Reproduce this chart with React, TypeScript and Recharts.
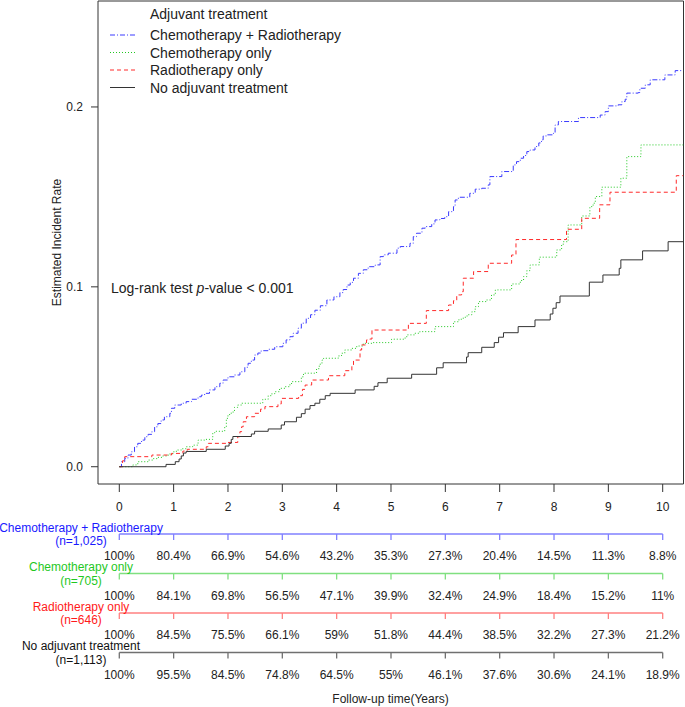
import React from 'react';
import { LineChart, Line, XAxis, YAxis, ReferenceArea } from 'recharts';

const FONT = '"Liberation Sans", Arial, Helvetica, sans-serif';

// ---------- data ----------
const years = [0, 1, 2, 3, 4, 5, 6, 7, 8, 9, 10];
const yTicks = [0, 0.1, 0.2];
const xDomain: [number, number] = [-0.392, 10.383];
const yDomain: [number, number] = [-0.0096, 0.2589];

const chemoRadio: [number, number][] = [
  [0, 0], [0.04, 0.0028], [0.1, 0.0047], [0.16, 0.0065], [0.22, 0.0083], [0.28, 0.0111], [0.34, 0.013],
  [0.41, 0.0148], [0.47, 0.0167], [0.53, 0.018], [0.6, 0.0195], [0.65, 0.0222], [0.71, 0.024], [0.77, 0.026],
  [0.83, 0.0278], [0.93, 0.0297], [0.96, 0.0325], [1.02, 0.0343], [1.14, 0.0353], [1.23, 0.0362], [1.33, 0.0375],
  [1.45, 0.0389], [1.51, 0.0398], [1.57, 0.0408], [1.66, 0.0427], [1.76, 0.0445], [1.85, 0.0464], [1.91, 0.0482],
  [2.0, 0.05], [2.12, 0.051], [2.22, 0.0528], [2.31, 0.0553], [2.37, 0.0575], [2.43, 0.0593], [2.49, 0.0621],
  [2.55, 0.0632], [2.61, 0.0645], [2.74, 0.0653], [2.86, 0.0667], [3.01, 0.0686], [3.07, 0.0705], [3.14, 0.0723],
  [3.2, 0.0742], [3.29, 0.077], [3.35, 0.0798], [3.44, 0.0825], [3.52, 0.0845], [3.6, 0.087], [3.7, 0.0895],
  [3.82, 0.0927], [3.95, 0.0945], [4.06, 0.0968], [4.12, 0.0985], [4.19, 0.101], [4.25, 0.1025], [4.31, 0.1048],
  [4.4, 0.1075], [4.49, 0.1095], [4.58, 0.1112], [4.71, 0.1122], [4.8, 0.1168], [4.86, 0.1178], [4.95, 0.1187],
  [5.11, 0.1215], [5.17, 0.1224], [5.35, 0.1242], [5.41, 0.1279], [5.47, 0.1298], [5.57, 0.1326], [5.63, 0.1335],
  [5.75, 0.135], [5.81, 0.1372], [5.9, 0.138], [5.99, 0.139], [6.06, 0.1418], [6.15, 0.1446], [6.18, 0.1483],
  [6.24, 0.1498], [6.45, 0.152], [6.55, 0.1543], [6.67, 0.1548], [6.79, 0.1567], [6.82, 0.1613], [7.04, 0.1641],
  [7.25, 0.1678], [7.31, 0.1696], [7.38, 0.1715], [7.44, 0.173], [7.5, 0.1752], [7.56, 0.1761], [7.65, 0.178],
  [7.72, 0.18], [7.77, 0.1817], [7.8, 0.1839], [7.87, 0.1845], [7.99, 0.1854], [8.02, 0.19], [8.08, 0.1919],
  [8.45, 0.1941], [8.85, 0.1955], [8.94, 0.1974], [9.0, 0.2006], [9.18, 0.2012], [9.25, 0.203], [9.31, 0.2043],
  [9.34, 0.2077], [9.55, 0.208], [9.58, 0.2104], [9.68, 0.2123], [9.77, 0.2151], [10.04, 0.2178], [10.23, 0.2202],
  [10.38, 0.2202],
];

const chemoOnly: [number, number][] = [
  [0, 0], [0.25, 0.001], [0.34, 0.0028], [0.53, 0.0037], [0.62, 0.0045], [0.71, 0.0052], [0.8, 0.006], [0.9, 0.0071],
  [0.99, 0.0083], [1.05, 0.0093], [1.15, 0.01], [1.23, 0.0111], [1.35, 0.012], [1.45, 0.0148], [1.57, 0.0152],
  [1.72, 0.0189], [1.76, 0.0197], [1.94, 0.0222], [1.97, 0.0269], [2.0, 0.029], [2.06, 0.0304], [2.12, 0.033],
  [2.18, 0.0343], [2.25, 0.0353], [2.64, 0.0375], [2.74, 0.0395], [2.8, 0.0405], [2.86, 0.0417], [2.95, 0.0436],
  [3.05, 0.0445], [3.14, 0.046], [3.17, 0.0473], [3.35, 0.05], [3.39, 0.052], [3.63, 0.0545], [3.68, 0.057],
  [3.73, 0.0593], [3.76, 0.0603], [4.03, 0.0616], [4.09, 0.0631], [4.15, 0.0649], [4.28, 0.0658], [4.37, 0.0671],
  [4.49, 0.0686], [4.67, 0.069], [5.01, 0.0709], [5.26, 0.0723], [5.3, 0.0733], [5.44, 0.0742], [5.53, 0.0751],
  [5.81, 0.0779], [6.15, 0.0806], [6.25, 0.082], [6.33, 0.0831], [6.4, 0.0845], [6.49, 0.0862], [6.55, 0.089],
  [6.61, 0.0918], [6.76, 0.0927], [6.85, 0.0955], [6.92, 0.0983], [7.22, 0.1016], [7.38, 0.1035], [7.44, 0.1057],
  [7.5, 0.109], [7.56, 0.1122], [7.73, 0.1165], [8.05, 0.1205], [8.14, 0.1233], [8.17, 0.1251], [8.26, 0.1344],
  [8.51, 0.1394], [8.66, 0.1446], [8.72, 0.1465], [8.76, 0.1502], [8.88, 0.1554], [9.23, 0.1604], [9.34, 0.1724],
  [9.6, 0.1789], [10.38, 0.1789],
];

const radioOnly: [number, number][] = [
  [0, 0], [0.06, 0.0033], [0.1, 0.0056], [0.6, 0.0065], [0.96, 0.0074], [1.17, 0.0087], [1.25, 0.0097], [1.6, 0.0111],
  [1.64, 0.013], [2.0, 0.0135], [2.18, 0.0167], [2.22, 0.0195], [2.25, 0.0222], [2.28, 0.025], [2.34, 0.0278],
  [2.49, 0.0297], [2.6, 0.032], [2.68, 0.0334], [2.92, 0.0349], [2.98, 0.038], [3.3, 0.0395], [3.37, 0.043],
  [3.42, 0.0454], [3.54, 0.0482], [3.85, 0.0506], [4.15, 0.0534], [4.28, 0.0566], [4.31, 0.0593], [4.43, 0.0649],
  [4.46, 0.0677], [4.55, 0.0705], [4.61, 0.071], [4.65, 0.076], [5.32, 0.0797], [5.65, 0.0868], [6.06, 0.0899],
  [6.15, 0.0923], [6.21, 0.0955], [6.3, 0.0973], [6.33, 0.1048], [6.52, 0.1085], [6.79, 0.1131], [7.22, 0.1177],
  [7.3, 0.1263], [8.23, 0.132], [8.51, 0.1381], [8.84, 0.1456], [9.03, 0.1526], [10.25, 0.1618], [10.38, 0.1618],
];

const noAdjuvant: [number, number][] = [
  [0, 0], [0.86, 0.0013], [1.03, 0.0028], [1.1, 0.0043], [1.14, 0.006], [1.18, 0.0076], [1.23, 0.0085], [1.6, 0.0097],
  [1.95, 0.0115], [2.02, 0.013], [2.06, 0.0152], [2.09, 0.0168], [2.43, 0.0182], [2.49, 0.0197], [2.74, 0.021],
  [2.98, 0.0232], [3.04, 0.025], [3.26, 0.0275], [3.35, 0.0295], [3.42, 0.032], [3.51, 0.034], [3.6, 0.0353],
  [3.69, 0.0375], [3.79, 0.0395], [3.88, 0.0408], [4.34, 0.0427], [4.69, 0.0447], [4.76, 0.0467], [4.93, 0.0492],
  [5.38, 0.0514], [5.84, 0.055], [5.96, 0.0578], [6.39, 0.061], [6.42, 0.0634], [6.67, 0.0664], [6.9, 0.069],
  [6.98, 0.072], [7.07, 0.0745], [7.34, 0.0779], [7.65, 0.0816], [7.93, 0.0849], [7.98, 0.0881], [8.04, 0.0912],
  [8.11, 0.0949], [8.65, 0.1026], [8.9, 0.1066], [9.2, 0.1103], [9.23, 0.115], [9.63, 0.12], [10.1, 0.1251],
  [10.38, 0.1251],
];

const riskChemoRadio = ['100%', '80.4%', '66.9%', '54.6%', '43.2%', '35.3%', '27.3%', '20.4%', '14.5%', '11.3%', '8.8%'];
const riskChemoOnly = ['100%', '84.1%', '69.8%', '56.5%', '47.1%', '39.9%', '32.4%', '24.9%', '18.4%', '15.2%', '11%'];
const riskRadioOnly = ['100%', '84.5%', '75.5%', '66.1%', '59%', '51.8%', '44.4%', '38.5%', '32.2%', '27.3%', '21.2%'];
const riskNoAdjuvant = ['100%', '95.5%', '84.5%', '74.8%', '64.5%', '55%', '46.1%', '37.6%', '30.6%', '24.1%', '18.9%'];

const groupNames = ['Chemotherapy + Radiotherapy', 'Chemotherapy only', 'Radiotherapy only', 'No adjuvant treatment'];
const groupN = ['(n=1,025)', '(n=705)', '(n=646)', '(n=1,113)'];

// ---------- styles ----------
const groups = [
  { name: groupNames[0], n: groupN[0], curve: chemoRadio, risk: riskChemoRadio, stroke: '#3b3bff', dash: '5 2 1 2', text: '#1a1aff', riskLine: '#8080ff' },
  { name: groupNames[1], n: groupN[1], curve: chemoOnly, risk: riskChemoOnly, stroke: '#22c822', dash: '1 2', text: '#1fc81f', riskLine: '#80e080' },
  { name: groupNames[2], n: groupN[2], curve: radioOnly, risk: riskRadioOnly, stroke: '#ff2a2a', dash: '4 3', text: '#ff1a1a', riskLine: '#ff8080' },
  { name: groupNames[3], n: groupN[3], curve: noAdjuvant, risk: riskNoAdjuvant, stroke: '#333333', dash: undefined as string | undefined, text: '#111111', riskLine: '#707070' },
];

const toRows = (pts: [number, number][]) => pts.map(([t, v]) => ({ t, v }));

export default function App() {
  return (
    <div style={{ position: 'absolute', left: 0, top: 0, width: 685, height: 707, background: '#fff', fontFamily: FONT }}>
      <div style={{ position: 'absolute', left: 0, top: 0 }}>
        <LineChart width={685} height={520} margin={{ top: 1, right: 1.5, bottom: 0, left: 0 }}>
          <XAxis
            type="number"
            dataKey="t"
            domain={xDomain}
            allowDataOverflow
            ticks={years}
            height={36}
            axisLine={false}
            tickSize={8}
            tickMargin={10}
            tickLine={{ stroke: '#333' }}
            tick={{ fontSize: 12, fill: '#222', fontFamily: FONT }}
          />
          <YAxis
            type="number"
            domain={yDomain}
            allowDataOverflow
            ticks={yTicks}
            width={98}
            axisLine={false}
            tickSize={7}
            tickMargin={8}
            tickLine={{ stroke: '#333' }}
            tickFormatter={(v: number) => v.toFixed(1)}
            tick={{ fontSize: 12, fill: '#222', fontFamily: FONT }}
          />
          <ReferenceArea x1={xDomain[0]} x2={xDomain[1]} y1={yDomain[0]} y2={yDomain[1]} fill="none" stroke="#333" strokeWidth={1} fillOpacity={0} />
          {groups.map((g) => (
            <Line
              key={g.name}
              name={g.name}
              data={toRows(g.curve)}
              dataKey="v"
              type="stepAfter"
              stroke={g.stroke}
              strokeWidth={1}
              strokeDasharray={g.dash}
              dot={false}
              activeDot={false}
              isAnimationActive={false}
            />
          ))}
        </LineChart>
      </div>

      <div style={{ position: 'absolute', left: 0, top: 520 }}>
        <LineChart width={685} height={187} margin={{ top: 14, right: 22.3, bottom: 54.5, left: 119.3 }}>
          <XAxis type="number" dataKey="t" domain={[0, 10]} hide />
          <YAxis type="number" domain={[0, 3]} reversed hide />
          {groups.map((g, i) => (
            <Line
              key={g.name}
              data={years.map((t, j) => ({ t, row: i, label: g.risk[j] }))}
              dataKey="row"
              stroke={g.riskLine}
              strokeWidth={1.3}
              isAnimationActive={false}
              activeDot={false}
              dot={(p: any) => (
                <g key={`d-${i}-${p.index}`}>
                  <line x1={p.cx} y1={p.cy} x2={p.cx} y2={p.cy + 6} stroke={g.riskLine} strokeWidth={1.3} />
                  <text x={p.cx} y={p.cy + 26} textAnchor="middle" fontSize={12} fill="#222" fontFamily={FONT}>
                    {p.payload.label}
                  </text>
                </g>
              )}
            />
          ))}
        </LineChart>
      </div>

      <svg width={685} height={707} style={{ position: 'absolute', left: 0, top: 0, pointerEvents: 'none' }} fontFamily={FONT}>
        <text x={57} y={242.5} transform="rotate(-90 57 242.5)" textAnchor="middle" dominantBaseline="central" fontSize={12} fill="#222">
          Estimated Incident Rate
        </text>
        <text x={150} y={19} fontSize={14} fill="#222">Adjuvant treatment</text>
        {groups.map((g, i) => {
          const cy = 35 + i * 17.5;
          return (
            <g key={`leg-${i}`}>
              <line x1={110} y1={cy} x2={135} y2={cy} stroke={g.stroke} strokeWidth={1} strokeDasharray={g.dash} />
              <text x={150} y={cy + 5} fontSize={14} fill="#222">{g.name}</text>
            </g>
          );
        })}
        <text x={111} y={293} fontSize={14} fill="#222">
          Log-rank test <tspan fontStyle="italic">p</tspan>-value &lt; 0.001
        </text>
        {groups.map((g, i) => {
          const ly = 534 + i * 39.5;
          return (
            <g key={`rn-${i}`}>
              <text x={81} y={ly - 2.5} textAnchor="middle" fontSize={12} fill={g.text}>{g.name}</text>
              <text x={81} y={ly + 11} textAnchor="middle" fontSize={12} fill={g.text}>{g.n}</text>
            </g>
          );
        })}
        <text x={390.5} y={703} textAnchor="middle" fontSize={12} fill="#222">Follow-up time(Years)</text>
      </svg>
    </div>
  );
}
